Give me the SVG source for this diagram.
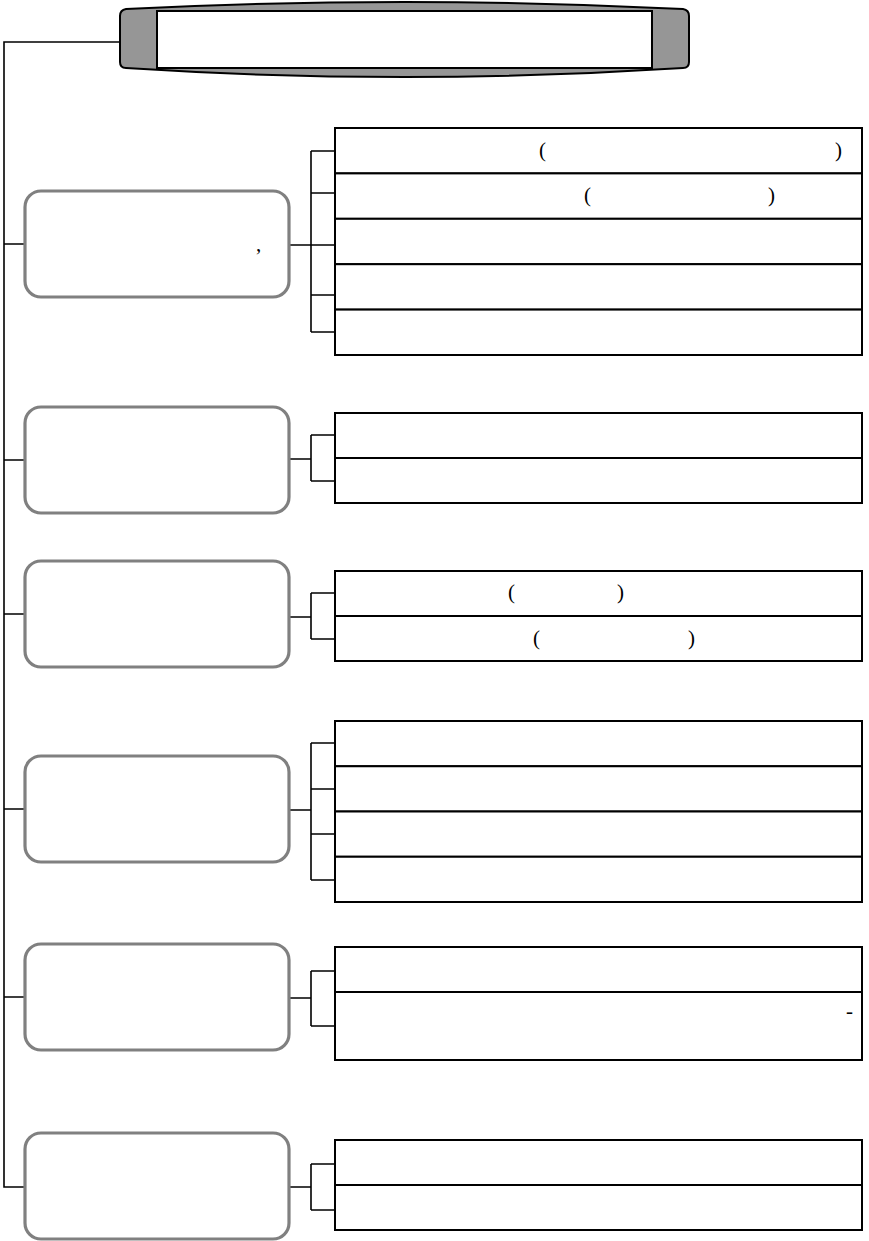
<svg xmlns="http://www.w3.org/2000/svg" width="869" height="1241" viewBox="0 0 869 1241">
<style>
.box{fill:#fff;stroke:#808080;stroke-width:3.2}
.tbl{fill:#fff;stroke:#000;stroke-width:2}
.ln{fill:none;stroke:#000;stroke-width:1.6}
.t{font-family:"Liberation Serif","Times New Roman",serif;font-size:21px;fill:#000}
</style>
<rect width="869" height="1241" fill="#fff"/>
<g id="connectors" class="ln">
<path d="M120,42 H4 V1187 H25"/>
<path d="M4,244 H25 M4,460 H25 M4,614 H25 M4,809 H25 M4,997 H25"/>
<path d="M289,245 H335 M311,151 V332 M311,151 H335 M311,193 H335 M311,295 H335 M311,332 H335"/>
<path d="M289,459 H311 M311,435 V481 M311,435 H335 M311,481 H335"/>
<path d="M289,617 H311 M311,593 V639 M311,593 H335 M311,639 H335"/>
<path d="M289,810 H311 M311,743 V880 M311,743 H335 M311,789 H335 M311,834 H335 M311,880 H335"/>
<path d="M289,998 H311 M311,971 V1026 M311,971 H335 M311,1026 H335"/>
<path d="M289,1187 H311 M311,1164 V1210 M311,1164 H335 M311,1210 H335"/>
</g>
<g id="title">
<path d="M126,9 Q404,-5 683,9 Q689,10 689,16 L689,62 Q689,68 683,68 Q404,86 126,68 Q120,68 120,62 L120,16 Q120,10 126,9 Z" fill="#969696" stroke="#000" stroke-width="2"/>
<rect x="157" y="11" width="495" height="57" fill="#fff" stroke="#000" stroke-width="2"/>
</g>
<g id="node1">
<rect class="box" x="25" y="191" width="264" height="106" rx="16"/>
<text class="t" x="256" y="251">,</text>
</g>
<g id="node2"><rect class="box" x="25" y="407" width="264" height="106" rx="16"/></g>
<g id="node3"><rect class="box" x="25" y="561" width="264" height="106" rx="16"/></g>
<g id="node4"><rect class="box" x="25" y="756" width="264" height="106" rx="16"/></g>
<g id="node5"><rect class="box" x="25" y="944" width="264" height="106" rx="16"/></g>
<g id="node6"><rect class="box" x="25" y="1133" width="264" height="106" rx="16"/></g>
<g id="list1">
<rect class="tbl" x="335" y="128" width="527" height="45.4"/>
<rect class="tbl" x="335" y="173.4" width="527" height="45.4"/>
<rect class="tbl" x="335" y="218.8" width="527" height="45.4"/>
<rect class="tbl" x="335" y="264.2" width="527" height="45.4"/>
<rect class="tbl" x="335" y="309.6" width="527" height="45.4"/>
<text class="t" x="539" y="157">(</text>
<text class="t" x="835" y="157">)</text>
<text class="t" x="584" y="202">(</text>
<text class="t" x="768" y="202">)</text>
</g>
<g id="list2">
<rect class="tbl" x="335" y="413" width="527" height="45"/>
<rect class="tbl" x="335" y="458" width="527" height="45"/>
</g>
<g id="list3">
<rect class="tbl" x="335" y="571" width="527" height="45"/>
<rect class="tbl" x="335" y="616" width="527" height="45"/>
<text class="t" x="508" y="599">(</text>
<text class="t" x="617" y="599">)</text>
<text class="t" x="533" y="645">(</text>
<text class="t" x="688" y="645">)</text>
</g>
<g id="list4">
<rect class="tbl" x="335" y="721" width="527" height="45.25"/>
<rect class="tbl" x="335" y="766.25" width="527" height="45.25"/>
<rect class="tbl" x="335" y="811.5" width="527" height="45.25"/>
<rect class="tbl" x="335" y="856.75" width="527" height="45.25"/>
</g>
<g id="list5">
<rect class="tbl" x="335" y="947" width="527" height="45"/>
<rect class="tbl" x="335" y="992" width="527" height="68"/>
<text class="t" x="846" y="1018">-</text>
</g>
<g id="list6">
<rect class="tbl" x="335" y="1140" width="527" height="45"/>
<rect class="tbl" x="335" y="1185" width="527" height="45"/>
</g>
</svg>
